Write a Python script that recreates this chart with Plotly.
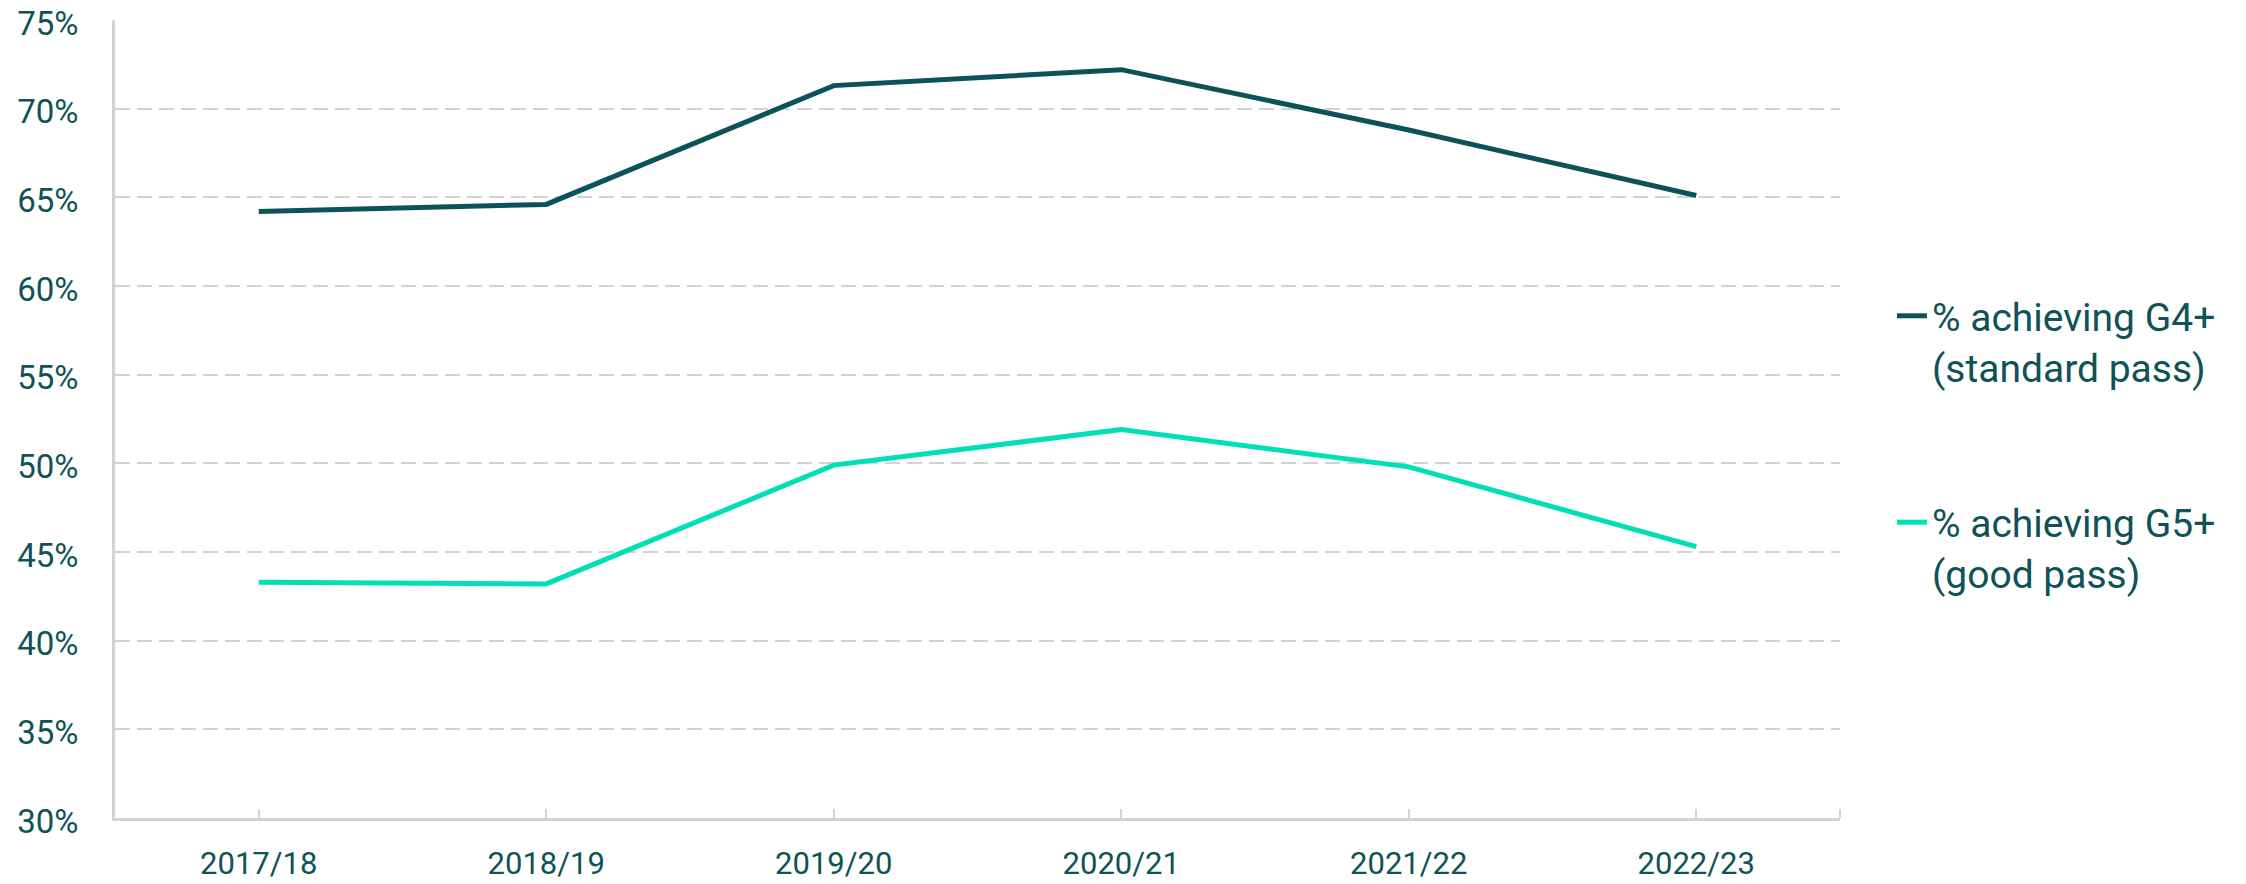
import plotly.graph_objects as go

years = ["2017/18", "2018/19", "2019/20", "2020/21", "2021/22", "2022/23"]
g4_values = [64.2, 64.6, 71.3, 72.2, 68.8, 65.1]
g5_values = [43.3, 43.2, 49.9, 51.9, 49.8, 45.3]
g4_name = "% achieving G4+<br>(standard pass)"
g5_name = "% achieving G5+<br>(good pass)"
y_ticks = [30, 35, 40, 45, 50, 55, 60, 65, 70, 75]
y_ticktext = [f"{v}%" for v in y_ticks]

TEXT = "#0f5257"
GRID = "#d3d3d3"
FONT = "Roboto, Arial, sans-serif"

fig = go.Figure()
fig.add_trace(go.Scatter(x=years, y=g4_values, mode="lines", name=g4_name,
                         legendgroup="g4",
                         line=dict(color="#0c5359", width=5)))
fig.add_trace(go.Scatter(x=years, y=g5_values, mode="lines", name=g5_name,
                         legendgroup="g5",
                         line=dict(color="#00e0b4", width=5)))

# the page body adds an 8px offset, so the figure is 8px smaller each way
fig.update_layout(
    width=2238, height=876,
    margin=dict(l=107, r=406, t=12, b=66, autoexpand=False),
    paper_bgcolor="white", plot_bgcolor="white",
    font=dict(family=FONT, color=TEXT, size=33),
    showlegend=True,
    legend=dict(
        xref="container", yref="container",
        x=0.8418, xanchor="left", y=0.685, yanchor="top",
        valign="top", tracegroupgap=102,
        font=dict(size=39, color=TEXT, family=FONT),
        bgcolor="rgba(0,0,0,0)",
    ),
)
fig.update_xaxes(
    type="category", range=[-0.5, 5.5],
    showline=True, linecolor=GRID, linewidth=3,
    ticks="inside", ticklen=9, tickcolor=GRID, tickwidth=2,
    showgrid=False, zeroline=False,
    tickfont=dict(size=31, color=TEXT, family=FONT),
    ticklabelstandoff=16,
)
fig.update_yaxes(
    range=[30, 75], tickvals=y_ticks, ticktext=y_ticktext,
    showline=True, linecolor=GRID, linewidth=3,
    showgrid=True, gridcolor=GRID, gridwidth=2, griddash="15px,7px",
    zeroline=False, ticks="",
    tickfont=dict(size=33, color=TEXT, family=FONT),
    ticklabelstandoff=27, ticklabeloverflow="allow", ticklabelshift=3,
)
# closing tick at the right end of the x axis
fig.add_shape(type="line", xref="paper", yref="paper", x0=1, x1=1, y0=0, y1=0.011,
              line=dict(color=GRID, width=2))

fig.write_html("out.html")
